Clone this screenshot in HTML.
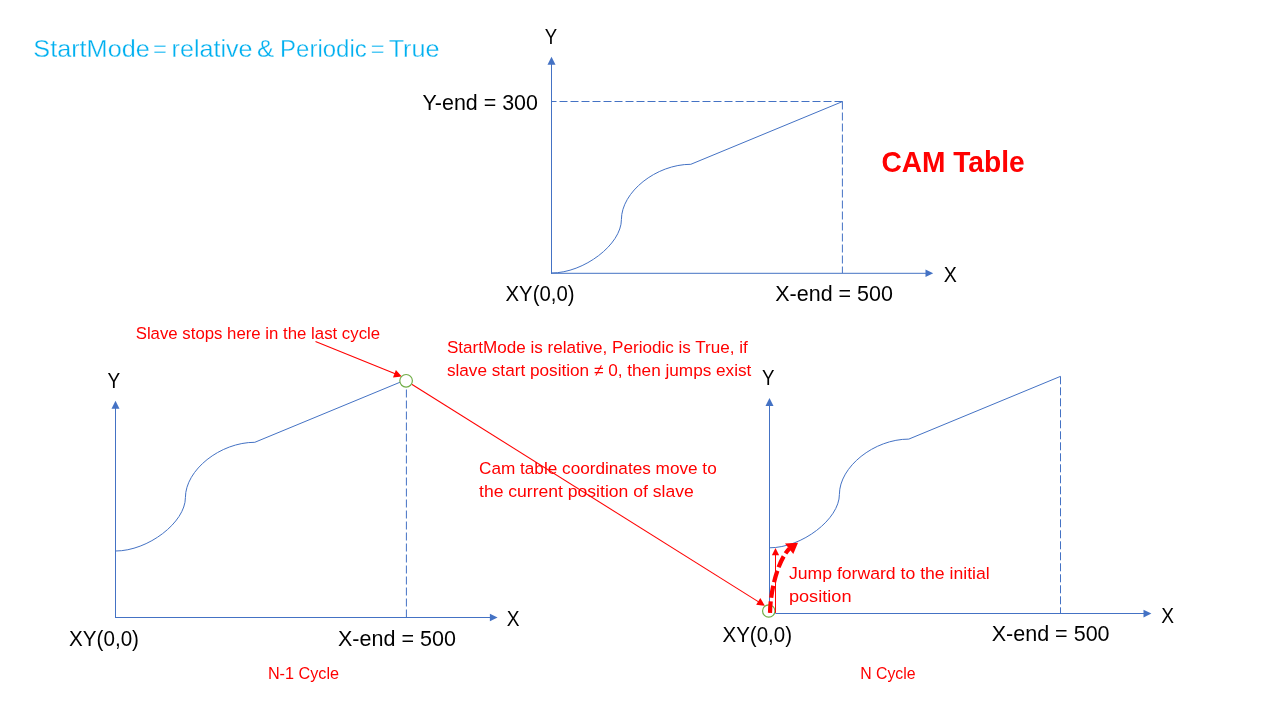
<!DOCTYPE html>
<html>
<head>
<meta charset="utf-8">
<title>CAM Table</title>
<style>
html,body{margin:0;padding:0;background:#fff;}
body{width:1280px;height:720px;overflow:hidden;font-family:"Liberation Sans",sans-serif;}
svg{display:block;position:absolute;left:0;top:0;will-change:transform;opacity:0.999;}
text{font-family:"Liberation Sans",sans-serif;}
.ax{stroke:#4472C4;stroke-width:1;fill:none;}
.cv{stroke:#4472C4;stroke-width:1;fill:none;}
.ds{stroke:#4472C4;stroke-width:1;fill:none;stroke-dasharray:8 3;}
.ah{fill:#4472C4;stroke:none;}
.rl{stroke:#FF0000;stroke-width:1.05;fill:none;}
.rh{fill:#FF0000;stroke:none;}
.bk{fill:#000;}
.rd{fill:#FF0000;}
</style>
</head>
<body>
<svg width="1280" height="720" viewBox="0 0 1280 720">
<rect x="0" y="0" width="1280" height="720" fill="#ffffff"/>

<!-- ===== Title ===== -->
<g id="title" font-size="24.6" fill="#00B0F0" stroke="#ffffff" stroke-width="0.3">
  <text id="tw0" x="33.3" y="57" textLength="116.5" lengthAdjust="spacingAndGlyphs">StartMode</text>
  <text id="tw1" x="153.1" y="57" textLength="13.8" lengthAdjust="spacingAndGlyphs">=</text>
  <text id="tw2" x="171.6" y="57" textLength="81.0" lengthAdjust="spacingAndGlyphs">relative</text>
  <text id="tw3" x="257.0" y="57" textLength="17.1" lengthAdjust="spacingAndGlyphs">&amp;</text>
  <text id="tw4" x="280.1" y="57" textLength="86.6" lengthAdjust="spacingAndGlyphs">Periodic</text>
  <text id="tw5" x="370.8" y="57" textLength="13.7" lengthAdjust="spacingAndGlyphs">=</text>
  <text id="tw6" x="388.7" y="57" textLength="50.8" lengthAdjust="spacingAndGlyphs">True</text>
</g>

<!-- ===== Top chart (CAM Table) ===== -->
<g id="top">
  <line class="ax" x1="551.5" y1="273.8" x2="551.5" y2="63"/>
  <polygon class="ah" points="551.5,56.8 555.5,64.8 547.5,64.8"/>
  <line class="ax" x1="551" y1="273.3" x2="926" y2="273.3"/>
  <polygon class="ah" points="933.2,273.3 925.5,269.5 925.5,277.1"/>
  <line class="ds" x1="551.5" y1="101.5" x2="842.5" y2="101.5" stroke-dashoffset="3"/>
  <line class="ds" x1="842.4" y1="101.5" x2="842.4" y2="273"/>
  <path class="cv" d="M551.5,273 c32.5,0 69.9,-28.6 69.9,-53.4 c0,-27.6 34.7,-55.3 69.4,-55.3 l151.6,-62.7"/>
  <text class="bk" x="544.8" y="43.9" font-size="22" textLength="12.4" lengthAdjust="spacingAndGlyphs">Y</text>
  <text class="bk" x="422.5" y="109.6" font-size="22" textLength="115.4" lengthAdjust="spacingAndGlyphs">Y-end = 300</text>
  <text class="bk" x="505.5" y="300.7" font-size="22" textLength="69.0" lengthAdjust="spacingAndGlyphs">XY(0,0)</text>
  <text class="bk" x="775.3" y="300.7" font-size="22" textLength="117.6" lengthAdjust="spacingAndGlyphs">X-end = 500</text>
  <text class="bk" x="943.8" y="281.9" font-size="22" textLength="13.1" lengthAdjust="spacingAndGlyphs">X</text>
  <text class="rd" x="881.4" y="172.3" font-size="29.4" font-weight="bold" textLength="143.2" lengthAdjust="spacingAndGlyphs">CAM Table</text>
</g>

<!-- ===== Bottom-left chart (N-1 Cycle) ===== -->
<g id="left">
  <line class="ax" x1="115.5" y1="618" x2="115.5" y2="407"/>
  <polygon class="ah" points="115.5,400.7 119.5,408.7 111.5,408.7"/>
  <line class="ax" x1="115" y1="617.5" x2="490.5" y2="617.5"/>
  <polygon class="ah" points="497.6,617.5 489.9,613.7 489.9,621.3"/>
  <line class="ds" x1="406.4" y1="389.5" x2="406.4" y2="617.5"/>
  <path class="cv" d="M115.5,551 c32.5,0 69.9,-28.6 69.9,-53.4 c0,-27.6 34.7,-55.3 69.4,-55.3 l151.6,-62.7"/>
  <text class="bk" x="107.4" y="388" font-size="22" textLength="12.7" lengthAdjust="spacingAndGlyphs">Y</text>
  <text class="bk" x="69.1" y="645.6" font-size="22" textLength="69.9" lengthAdjust="spacingAndGlyphs">XY(0,0)</text>
  <text class="bk" x="338.0" y="645.6" font-size="22" textLength="117.9" lengthAdjust="spacingAndGlyphs">X-end = 500</text>
  <text class="bk" x="506.8" y="625.6" font-size="22" textLength="12.8" lengthAdjust="spacingAndGlyphs">X</text>
  <text class="rd" x="267.9" y="679" font-size="17.1" textLength="71.2" lengthAdjust="spacingAndGlyphs">N-1 Cycle</text>
</g>

<!-- ===== Bottom-right chart (N Cycle) ===== -->
<g id="right">
  <line class="ax" x1="769.5" y1="613" x2="769.5" y2="404"/>
  <polygon class="ah" points="769.5,398 773.5,406 765.5,406"/>
  <line class="ax" x1="775.4" y1="613.5" x2="1144.5" y2="613.5"/>
  <polygon class="ah" points="1151.4,613.6 1143.5,609.8 1143.5,617.4"/>
  <line class="ds" x1="1060.5" y1="376.3" x2="1060.5" y2="613.5"/>
  <path class="cv" d="M769.5,547.8 c32.5,0 69.9,-28.6 69.9,-53.4 c0,-27.6 34.7,-55.3 69.4,-55.3 l151.6,-62.7"/>
  <text class="bk" x="761.9" y="384.5" font-size="22" textLength="12.5" lengthAdjust="spacingAndGlyphs">Y</text>
  <text class="bk" x="722.5" y="642" font-size="22" textLength="69.5" lengthAdjust="spacingAndGlyphs">XY(0,0)</text>
  <text class="bk" x="991.7" y="641.2" font-size="22" textLength="117.9" lengthAdjust="spacingAndGlyphs">X-end = 500</text>
  <text class="bk" x="1161.2" y="623.1" font-size="22" textLength="12.8" lengthAdjust="spacingAndGlyphs">X</text>
  <text class="rd" x="860.2" y="679" font-size="17.1" textLength="55.4" lengthAdjust="spacingAndGlyphs">N Cycle</text>
</g>

<!-- ===== Red annotations ===== -->
<g id="red">
  <text class="rd" x="135.7" y="338.7" font-size="17.1" textLength="244.4" lengthAdjust="spacingAndGlyphs">Slave stops here in the last cycle</text>
  <text class="rd" x="446.9" y="353.2" font-size="17.1" textLength="300.9" lengthAdjust="spacingAndGlyphs">StartMode is relative, Periodic is True, if</text>
  <text class="rd" x="446.9" y="375.9" font-size="17.1" textLength="304.5" lengthAdjust="spacingAndGlyphs">slave start position &#8800; 0, then jumps exist</text>
  <text class="rd" x="479.0" y="473.7" font-size="17.1" textLength="237.7" lengthAdjust="spacingAndGlyphs">Cam table coordinates move to</text>
  <text class="rd" x="479.0" y="497.1" font-size="17.1" textLength="214.7" lengthAdjust="spacingAndGlyphs">the current position of slave</text>
  <text class="rd" x="788.9" y="578.7" font-size="17.1" textLength="200.8" lengthAdjust="spacingAndGlyphs">Jump forward to the initial</text>
  <text class="rd" x="788.9" y="601.8" font-size="17.1" textLength="62.6" lengthAdjust="spacingAndGlyphs">position</text>

  <circle cx="768.75" cy="611" r="6.2" fill="none" stroke="#70AD47" stroke-width="1.2"/>
  <!-- arrow: label -> circle (left chart) -->
  <line class="rl" x1="315.5" y1="341.5" x2="395.8" y2="374.1"/>
  <polygon class="rh" points="401.8,376.5 393,377.4 395.9,370.1"/>
  <!-- long arrow: left circle -> right origin -->
  <line class="rl" x1="411.7" y1="384.3" x2="759" y2="602.1"/>
  <polygon class="rh" points="764.9,605.8 756.2,604.8 760.3,598.1"/>
  <!-- thin vertical arrow -->
  <line class="rl" x1="775.5" y1="612.9" x2="775.5" y2="554"/>
  <polygon class="rh" points="775.5,548 779.1,555.2 771.9,555.2"/>
  <!-- thick dashed jump curve -->
  <path d="M770,612.9 C770.4,590 778,560 789.5,548.5" stroke="#FF0000" stroke-width="4.2" fill="none" stroke-dasharray="12 3.6" stroke-dashoffset="0.3"/>
  <polygon class="rh" points="798,542.8 793.3,554 785,543.6"/>
  <!-- circles -->
  <circle cx="406.1" cy="380.8" r="6.3" fill="#ffffff" stroke="#70AD47" stroke-width="1.2"/>
</g>
</svg>
</body>
</html>
